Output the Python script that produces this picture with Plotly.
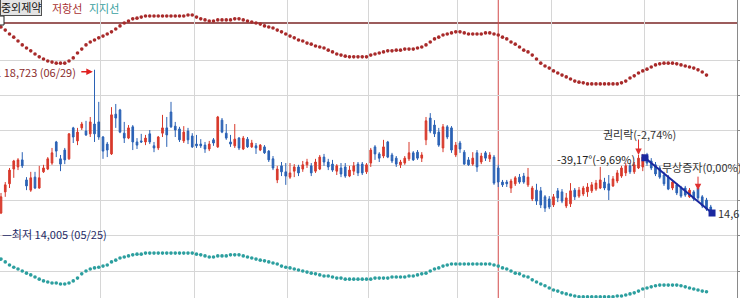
import plotly.graph_objects as go

# ---------------- data (prices in KRW) ----------------
opens = [14650,15250,15480,15900,15960,16160,15590,15300,15670,15360,
         15820,15900,16070,16670,16190,16440,16190,17070,16700,17070,
         16980,16900,17180,17240,16810,16610,16330,17460,17580,16920,
         16780,17100,16670,16700,16670,16900,16560,16500,16920,17070,
         17520,17120,17040,16700,16980,16840,16610,16610,16580,16470,
         16730,16530,17290,16920,16670,16560,16780,16470,16750,16530,
         16560,16440,16530,16410,16190,15590,15990,15820,15670,15840,
         15960,15900,16020,15990,15840,15900,16240,16100,16040,15840,
         15930,15960,15700,15840,16040,16040,15820,16070,16530,16330,
         16270,16670,16300,16210,16020,16070,16190,16360,16380,16210,
         16730,17350,17150,16950,16500,17100,17070,16300,16640,16380,
         16160,16040,16360,16100,16360,16190,16240,15930,15530,15530,
         15360,15480,15670,15700,15450,15050,15300,15280,15110,15050,
         14880,15280,15250,14850,14910,15300,15130,15190,15250,15280,
         15330,15360,15530,15480,15420,15560,15700,15790,15990,15820,
         15930,15960,16270,16130,16020,15930,15730,15670,15360,15450,
         15360,15360,15110,15250,15360,15110,15020,14820]
highs = [15220,15530,15930,16160,16210,16380,15670,15820,15820,15990,
         16020,16240,16500,16700,16300,16500,16920,17100,17070,17240,
         17270,17380,18723,17810,16840,16670,17660,17750,17610,17240,
         17150,17150,16780,16900,16870,17010,16670,16840,17440,17380,
         17810,17240,17100,17120,17070,16920,16870,16750,16670,16700,
         16780,17410,17350,17180,16870,17180,16810,16840,16810,16730,
         16640,16610,16580,16440,16270,15990,16100,16070,16070,16040,
         16020,16130,16190,16070,16190,16300,16330,16190,16160,16040,
         16070,16070,15990,16100,16100,16100,16070,16500,16580,16380,
         16730,16700,16360,16270,16160,16270,16670,16410,16440,16380,
         17380,17490,17290,17070,17180,17150,17120,16670,16700,16440,
         16240,16380,16440,16360,16410,16380,16300,16020,15590,15590,
         15620,15700,15760,15790,15930,15420,15480,15390,15160,15130,
         15190,15360,15330,15220,15500,15360,15390,15420,15500,15530,
         15590,15960,15650,15730,15700,15870,15990,16070,16070,16100,
         16300,16330,16360,16210,16100,15990,15820,15730,15590,15500,
         15420,15420,15360,15300,15450,15160,15080,14880]
lows = [14620,15110,15360,15650,15870,15930,15300,15250,15330,15340,
        15790,15870,16020,16240,15840,16040,16160,16640,16580,17010,
        16840,16810,16670,16730,16190,16240,16300,17070,16920,16640,
        16750,16440,16470,16640,16580,16610,16380,16440,16810,16530,
        17070,16810,16670,16640,16610,16500,16500,16500,16360,16410,
        16560,16500,16920,16730,16530,16500,16440,16440,16500,16500,
        16330,16410,16330,16100,15870,15500,15700,15450,15620,15670,
        15700,15820,15930,15700,15790,15870,15990,15870,15820,15730,
        15670,15650,15670,15730,15700,15730,15760,15960,16160,16100,
        16210,16210,16070,15960,15930,16020,16130,16130,16160,16100,
        16580,16920,16810,16530,16380,16750,16360,16240,16360,16020,
        15990,15990,15820,16040,16130,16100,15450,15390,15390,15390,
        15220,15420,15480,15480,15390,14990,14880,14790,14680,14760,
        14820,14960,14930,14790,14820,15020,15080,15130,15110,15220,
        15280,15330,15300,15020,15390,15500,15650,15700,15760,15760,
        15900,15840,15990,15870,15700,15620,15420,15300,15300,15160,
        15080,15110,15080,14990,15020,14790,14710,14620]
closes = [15110,15450,15870,16130,16160,15990,15420,15650,15360,15650,
          15930,16190,16360,16410,16040,16160,16900,16810,16950,17180,
          16870,17240,16900,16810,16410,16440,17440,17350,16950,16780,
          17070,16670,16580,16670,16780,16670,16500,16810,17070,16870,
          17100,17010,16730,16950,16730,16530,16560,16560,16470,16610,
          16640,17380,16950,16780,16610,16750,16500,16780,16530,16640,
          16500,16580,16360,16160,15930,15900,15820,15700,15790,15960,
          15790,16020,16100,15790,16100,16240,16100,15960,15870,15990,
          15760,15700,15870,15990,15790,15790,16020,16440,16330,16210,
          16530,16240,16130,16040,16100,16210,16360,16160,16210,16300,
          17270,16980,16900,16580,17100,16810,16440,16580,16470,16040,
          16020,16210,15960,16270,16210,16300,15500,15530,15450,15480,
          15560,15650,15530,15530,15670,15360,14990,14880,14790,14820,
          15110,15080,14990,15080,15280,15110,15300,15360,15390,15450,
          15500,15590,15360,15300,15620,15790,15930,15990,15820,16020,
          16210,16240,16070,15930,15760,15670,15480,15330,15530,15220,
          15130,15160,15300,15050,15080,14850,14760,14650]

resistance = [19940,19850,19740,19650,19540,19430,19340,19260,19170,19090,
              19030,18970,18940,18910,18910,18910,18970,19060,19200,19310,
              19430,19510,19570,19630,19680,19740,19800,19880,19970,20050,
              20110,20170,20190,20220,20250,20250,20250,20250,20250,20250,
              20250,20250,20250,20250,20280,20280,20220,20170,20140,20110,
              20110,20140,20140,20140,20140,20170,20170,20140,20110,20080,
              20050,20020,19970,19940,19910,19850,19800,19740,19680,19630,
              19570,19540,19480,19450,19400,19370,19340,19280,19230,19170,
              19140,19110,19090,19090,19090,19090,19090,19140,19170,19200,
              19230,19260,19260,19280,19280,19310,19310,19310,19340,19370,
              19430,19510,19600,19650,19710,19740,19770,19800,19800,19770,
              19740,19740,19740,19740,19770,19770,19740,19710,19650,19600,
              19510,19450,19370,19280,19230,19140,19030,18910,18830,18770,
              18690,18630,18570,18520,18460,18400,18370,18350,18320,18320,
              18320,18320,18320,18320,18320,18320,18350,18400,18490,18550,
              18630,18690,18740,18800,18860,18890,18910,18910,18910,18890,
              18860,18830,18800,18770,18720,18660,18570]
support = [13340,13260,13170,13110,13060,13000,12940,12890,12830,12770,
           12720,12690,12660,12660,12630,12630,12660,12720,12800,12920,
           13000,13060,13090,13110,13140,13170,13260,13310,13370,13400,
           13430,13460,13480,13480,13510,13510,13510,13510,13510,13510,
           13510,13510,13510,13510,13510,13510,13480,13460,13430,13400,
           13400,13430,13430,13430,13460,13460,13460,13430,13400,13370,
           13340,13310,13290,13260,13230,13200,13140,13110,13090,13060,
           13030,13000,12970,12940,12920,12890,12860,12860,12830,12800,
           12800,12770,12770,12770,12770,12770,12770,12770,12800,12800,
           12800,12800,12830,12830,12830,12830,12860,12860,12890,12920,
           12940,13000,13060,13090,13140,13170,13200,13200,13200,13200,
           13200,13200,13200,13200,13200,13200,13170,13140,13090,13060,
           13000,12940,12920,12860,12830,12750,12690,12630,12580,12520,
           12460,12430,12380,12350,12320,12290,12270,12270,12270,12270,
           12270,12270,12270,12270,12270,12290,12290,12320,12350,12380,
           12430,12490,12520,12550,12580,12600,12600,12600,12600,12600,
           12580,12550,12520,12490,12460,12430,12410]

month_start_idx = [24, 46, 68, 87, 108, 130, 152]       # first candle of each month
grid_prices = [13000, 14000, 15000, 16000, 17000, 18000, 19000]
hline_price = 20050           # horizontal line drawn by user
vline_idx = 117               # red vertical marker
trend_x = [151.5, 167.3]
trend_y = [16220, 14650]
high_price, high_label = 18723, "최고 18,723 (06/29)"
low_price, low_label = 14005, "—최저 14,005 (05/25)"

n = len(opens)
idx = list(range(n))

RED = "#d8392b"
BLUE = "#2b62b5"
FONT = "Noto Sans CJK KR"

fig = go.Figure()
fig.add_trace(go.Scatter(x=idx[:len(resistance)], y=resistance, mode="markers",
                         marker=dict(size=3.6, color="#a82a2a"), hoverinfo="skip"))
fig.add_trace(go.Scatter(x=idx[:len(support)], y=support, mode="markers",
                         marker=dict(size=3.6, color="#2c9f9f"), hoverinfo="skip"))
fig.add_trace(go.Candlestick(
    x=idx, open=opens, high=highs, low=lows, close=closes,
    increasing=dict(line=dict(color=RED, width=1), fillcolor=RED),
    decreasing=dict(line=dict(color=BLUE, width=1), fillcolor=BLUE),
    whiskerwidth=0, hoverinfo="skip"))
fig.add_trace(go.Scatter(x=trend_x, y=trend_y, mode="lines+markers",
                         line=dict(color="#1a28a0", width=2),
                         marker=dict(symbol="square", size=7, color="#1a28a0"),
                         hoverinfo="skip"))

W = 737.0
shapes = [
    dict(type="line", xref="paper", x0=0, x1=1, yref="y", y0=hline_price, y1=hline_price,
         line=dict(color="#9c5c5c", width=2), layer="between"),
    dict(type="line", xref="x", x0=vline_idx, x1=vline_idx, yref="paper", y0=0, y1=1,
         line=dict(color="#d24a4a", width=1), layer="between"),
    dict(type="rect", xref="paper", x0=-4 / W, x1=4 / W, yref="paper",
         y0=1 - 25 / 298, y1=1 - 16 / 298,
         line=dict(color="#222222", width=1), fillcolor="white", layer="above"),
]

def f(size=11, color="#333333"):
    return dict(family=FONT, size=size, color=color)

annotations = [
    # legend row
    dict(xref="paper", yref="paper", x=0, y=1, xanchor="left", yanchor="top", yshift=2,
         text="중외제약", showarrow=False, font=f(11, "#111111"),
         bgcolor="#e4e4e4", bordercolor="#505050", borderwidth=1, borderpad=0),
    dict(xref="paper", yref="paper", x=50 / W, y=1, xanchor="left", yanchor="top", yshift=2,
         text="저항선", showarrow=False, font=f(11, "#a83232")),
    dict(xref="paper", yref="paper", x=87 / W, y=1, xanchor="left", yanchor="top", yshift=2,
         text="지지선", showarrow=False, font=f(11, "#3a9f9f")),
    # high / low
    dict(xref="x", yref="y", x=18.2, y=high_price, xanchor="right", yanchor="middle", yshift=-2,
         text=high_label, showarrow=False, font=f(11, "#8a2c2c")),
    dict(xref="x", yref="y", x=21.6, y=high_price, ax=-13, ay=0, text="", showarrow=True,
         arrowhead=2, arrowsize=1, arrowwidth=1.3, arrowcolor="#e02020", yshift=-2),
    dict(xref="paper", yref="y", x=0, y=low_price, xanchor="left", yanchor="middle", yshift=2,
         text=low_label, showarrow=False, font=f(11, "#1f2a66")),
    # events
    dict(xref="x", yref="y", x=150.2, y=16900, xanchor="center", yanchor="middle",
         text="권리락(-2,74%)", showarrow=False, font=f(11)),
    dict(xref="x", yref="y", x=150, y=16300, ax=0, ay=-17, text="", showarrow=True,
         arrowhead=2, arrowsize=1.3, arrowwidth=1, arrowcolor="#e03030"),
    dict(xref="x", yref="y", x=149.6, y=16185, xanchor="right", yanchor="middle",
         text="-39,17°(-9,69%)", showarrow=False, font=f(11, "#222222")),
    dict(xref="x", yref="y", x=155.1, y=15960, xanchor="left", yanchor="middle",
         text="무상증자(0,00%)", showarrow=False, font=f(11)),
    dict(xref="x", yref="y", x=164, y=15300, ax=0, ay=-15, text="", showarrow=True,
         arrowhead=2, arrowsize=1.3, arrowwidth=1, arrowcolor="#e03030"),
    dict(xref="x", yref="y", x=168.2, y=trend_y[-1], xanchor="left", yanchor="middle",
         text="14,6", showarrow=False, font=f(11)),
]

x0 = -1 / 4.25
fig.update_layout(
    width=740, height=298,
    margin=dict(l=0, r=3, t=0, b=0, pad=0),
    paper_bgcolor="white", plot_bgcolor="white",
    showlegend=False, hovermode=False, boxgap=0.45,
    shapes=shapes, annotations=annotations,
    xaxis=dict(range=[x0, x0 + W / 4.25], tickvals=[m - 0.5 for m in month_start_idx],
               showticklabels=False, ticks="", showgrid=True, gridcolor="#d6d6d6",
               gridwidth=1, zeroline=False, rangeslider=dict(visible=False),
               fixedrange=True),
    yaxis=dict(range=[19000 - 238 * 28.43, 19000 + 60 * 28.43], tickvals=grid_prices,
               showticklabels=False, showgrid=True, gridcolor="#d6d6d6", gridwidth=1,
               zeroline=False, side="right", showline=True, linecolor="#8a8a8a",
               linewidth=1, ticks="outside", ticklen=3, tickcolor="#8a8a8a",
               fixedrange=True),
)

fig.write_html("out.html")
